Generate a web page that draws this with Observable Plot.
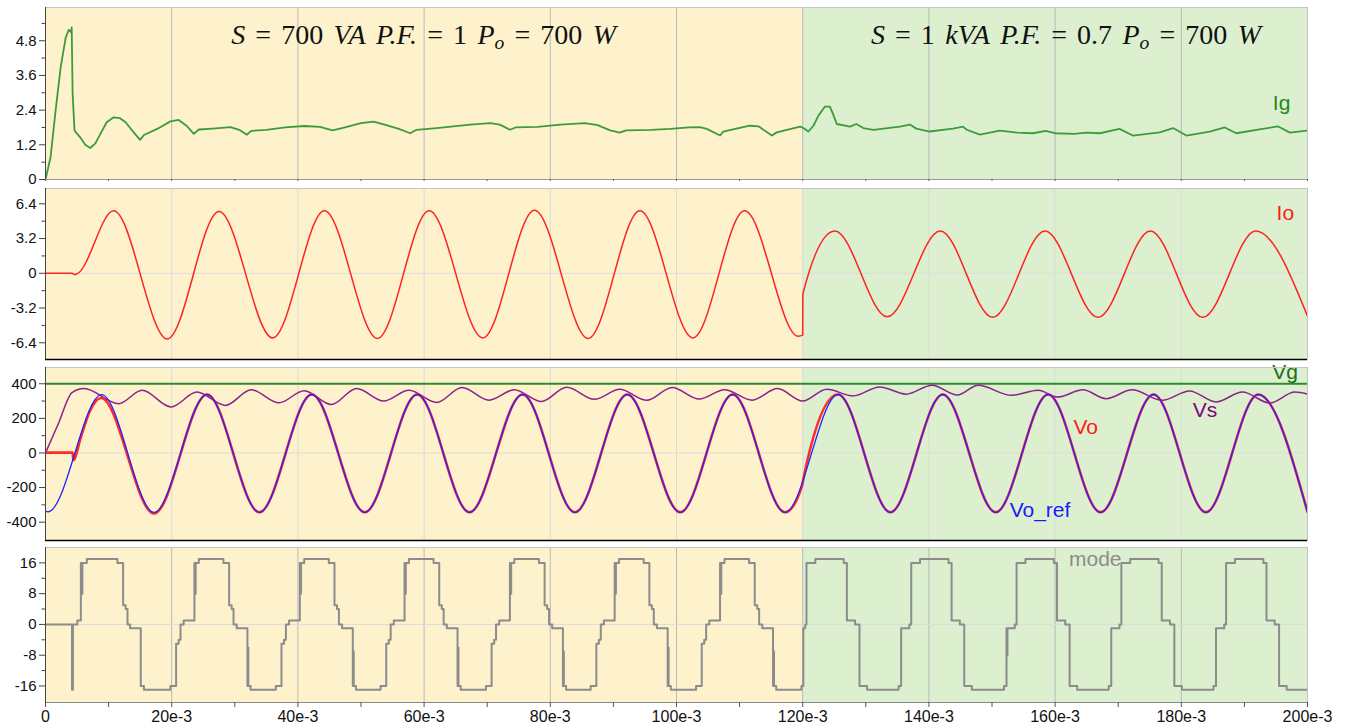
<!DOCTYPE html>
<html>
<head>
<meta charset="utf-8">
<script src="https://cdn.jsdelivr.net/npm/d3@7"></script>
<script src="https://cdn.jsdelivr.net/npm/@observablehq/plot@0.6"></script>
<style>
  body { margin: 0; background: #fff; }
  #fig { position: relative; width: 1347px; height: 726px; overflow: hidden; }
  #fig .panel { position: absolute; left: 0; }
  #fig svg { display: block; }
  .phase {
    position: absolute; top: 21px; line-height: 28px; white-space: nowrap;
    font-family: "Liberation Serif", "Times New Roman", serif; font-size: 28px; color: #111;
    word-spacing: 0.12em; transform: translateX(-50%); z-index: 2;
  }
  .phase i { font-style: italic; }
  .phase .eq { margin: 0 0.36em; }
  .phase sub { font-size: 0.7em; vertical-align: -0.25em; line-height: 0; }
</style>
</head>
<body>
<div id="fig"></div>
<script>
// ---- operating phases (time in ms) ----
const phaseStart = [0, 120];
const phaseEnd = [120, 200];
const phaseFill = ["#fdf2cc", "#dcf0d0"];
const phaseTitles = [
  '<i>S</i><span class="eq">=</span>700 <i>VA</i> <i>P.F.</i><span class="eq">=</span>1 <i>P<sub>o</sub></i><span class="eq">=</span>700 <i>W</i>',
  '<i>S</i><span class="eq">=</span>1 <i>kVA</i> <i>P.F.</i><span class="eq">=</span>0.7 <i>P<sub>o</sub></i><span class="eq">=</span>700 <i>W</i>'
];

// ---- time axis ----
const xTicks = [0, 20, 40, 60, 80, 100, 120, 140, 160, 180, 200];
const xTickLabels = ["0", "20e-3", "40e-3", "60e-3", "80e-3", "100e-3", "120e-3", "140e-3", "160e-3", "180e-3", "200e-3"];
const xMinor = [10, 30, 50, 70, 90, 110, 130, 150, 170, 190];

// ---- Ig : grid current [A] (t ms, value) ----
const ig = [[0,0],[0.8,0.77],[1.6,2.38],[2.4,3.88],[3.2,4.91],[3.7,5.18],[4.06,5.09],[4.15,5.26],[4.3,2.96],[4.6,1.69],
  [5.5,1.46],[6.3,1.2],[7.1,1.09],[7.9,1.25],[8.7,1.58],[9.7,1.98],[10.8,2.15],[11.8,2.12],[12.7,1.98],[13.9,1.65],
  [15.0,1.37],[15.6,1.54],[17.7,1.75],[19.8,2.01],[21.1,2.06],[22.4,1.85],[23.5,1.58],[24.3,1.73],[26.5,1.76],[29.3,1.81],
  [30.7,1.72],[31.9,1.55],[32.6,1.68],[35,1.72],[38,1.8],[41,1.85],[43.5,1.82],[45.5,1.7],[47,1.78],[50,1.95],
  [52,2.0],[54,1.88],[56,1.75],[57.8,1.6],[58.8,1.72],[62,1.78],[65,1.85],[67.3,1.9],[70.5,1.95],[72,1.9],
  [73.6,1.72],[74.5,1.8],[78,1.82],[81.6,1.9],[85.5,1.95],[87.5,1.88],[89.5,1.7],[91,1.62],[92,1.7],[96,1.72],
  [99,1.75],[102,1.8],[103.7,1.81],[104.8,1.75],[106.9,1.52],[107.4,1.66],[111.6,1.86],[113,1.84],[115.1,1.52],[115.9,1.63],
  [119.6,1.83],[120.1,1.78],[120.9,1.66],[121.7,1.86],[122.5,2.21],[123.5,2.52],[124.3,2.52],[124.8,2.27],[125.4,1.92],[127.5,1.83],
  [128.5,1.92],[129.6,1.78],[131.2,1.72],[135.4,1.83],[137,1.9],[138,1.76],[140.1,1.66],[143.8,1.76],[145.4,1.83],[146,1.72],
  [148.1,1.55],[151.2,1.69],[154,1.62],[156.5,1.6],[158.5,1.68],[160,1.6],[163,1.58],[165,1.62],[167.1,1.6],[170.2,1.75],
  [172.3,1.52],[176.6,1.63],[178.7,1.78],[180.8,1.52],[184.5,1.66],[186.9,1.8],[188.7,1.6],[192.9,1.75],[195.3,1.84],[197.2,1.62],
  [199.9,1.69]];
const igTicks = [0, 1.2, 2.4, 3.6, 4.8];
const igTickLabels = ["0", "1.2", "2.4", "3.6", "4.8"];
const igMinor = [0.6, 1.8, 3.0, 4.2, 5.4];

// ---- Io : output current [A], extrema and breakpoints ----
const io = [[0,0],[4.2,0],[4.6,-0.12],[5.0,-0.05],[10.8,5.75],[19.3,-6.05],[27.5,5.7],[36.0,-5.95],[44.2,5.75],[52.6,-6.0],
  [60.8,5.75],[69.3,-5.95],[77.5,5.8],[86.0,-6.0],[94.2,5.75],[102.6,-5.95],[110.8,5.75],[119.3,-5.8],[120.0,-5.7],[120.03,-1.9],
  [125.1,3.9],[133.4,-4.0],[141.8,3.9],[150.1,-4.05],[158.4,3.9],[166.8,-4.05],[175.1,3.9],[183.4,-4.05],[191.8,3.9],[200,-3.95]];
const ioTicks = [-6.4, -3.2, 0, 3.2, 6.4];
const ioTickLabels = ["-6.4", "-3.2", "0", "3.2", "6.4"];
const ioMinor = [-4.8, -1.6, 1.6, 4.8];

// ---- voltages [V] ----
const vg = [[0,400],[200,400]];
const vs = [[0,0],[2.1,175],[4.2,349],[6.1,372],[11.6,285],[15.3,362],[19.9,266],[24.0,352],[28.5,275],[32.6,365],
  [37.0,290],[41.0,360],[45.3,280],[49.3,372],[53.6,300],[57.6,362],[62.0,292],[66.0,378],[70.3,305],[74.3,366],
  [78.6,298],[82.6,380],[87.0,310],[91.0,368],[95.3,304],[99.3,378],[103.6,312],[107.6,366],[112.0,305],[116.0,372],
  [120.0,300],[123.8,368],[128.0,330],[132.2,382],[136.4,340],[140.5,392],[144.5,335],[147.8,391],[153.1,333],[157.3,362],
  [160.4,323],[164.4,365],[168.1,314],[172.2,365],[177.0,304],[181.3,358],[185.5,295],[189.7,352],[194.0,289],[198.0,352],
  [200,340]];
const voRef = [[0,-338],[0.4,-340],[8.9,337],[17.2,-344],[25.6,338],[33.9,-343],[42.2,338],[50.6,-343],[58.9,338],[67.2,-343],
  [75.6,338],[83.9,-343],[92.2,338],[100.6,-343],[108.9,338],[117.2,-343],[125.6,338],[133.9,-343],[142.2,338],[150.6,-343],
  [158.9,338],[167.2,-343],[175.6,338],[183.9,-343],[192.2,338],[200,-341]];
const vo = [[0,2],[4.3,2],[4.4,-42],[5.6,90],[7.0,240],[8.8,318],[17.2,-350],[25.6,338],[33.9,-343],[42.2,338],
  [50.6,-343],[58.9,338],[67.2,-343],[75.6,338],[83.9,-343],[92.2,338],[100.6,-343],[108.9,338],[117.2,-343],[119.9,-190],
  [120.05,-160],[125.6,338],[133.9,-343],[142.2,338],[150.6,-343],[158.9,338],[167.2,-343],[175.6,338],[183.9,-343],[192.2,338],
  [200,-341]];
const vTicks = [-400, -200, 0, 200, 400];
const vTickLabels = ["-400", "-200", "0", "200", "400"];
const vMinor = [-300, -100, 100, 300];

// ---- converter mode (t ms where the level starts, level) ----
const mode = [[0,0],[4.2,-17],[4.35,0],[5.05,1],[5.6,16],[5.75,8],[5.85,16],[6.55,17],
  [11.4,16],[12.3,5],[12.7,4],[13.0,0],[13.4,-1],[15.1,-16],[15.6,-17],
  [19.8,-16],[20.7,-5],[21.1,-4],[21.4,0],[21.9,1],[23.6,16],[23.7,8],[23.8,16],[24.3,17],
  [28.2,16],[29.1,5],[29.5,4],[29.8,0],[30.3,-1],[32.0,-16],[32.05,-6],[32.15,-16],[32.5,-17],
  [36.5,-16],[37.4,-5],[37.8,-4],[38.1,0],[38.6,1],[40.3,16],[40.4,8],[40.5,16],[41.0,17],
  [44.9,16],[45.8,5],[46.2,4],[46.5,0],[47.0,-1],[48.7,-16],[48.75,-7],[48.85,-16],[49.2,-17],
  [53.1,-16],[54.0,-5],[54.4,-4],[54.7,0],[55.2,1],[56.9,16],[57.0,8],[57.1,16],[57.6,17],
  [61.5,16],[62.4,5],[62.8,4],[63.1,0],[63.6,-1],[65.3,-16],[65.35,-6],[65.45,-16],[65.8,-17],
  [69.8,-16],[70.7,-5],[71.1,-4],[71.4,0],[71.9,1],[73.6,16],[73.7,8],[73.8,16],[74.3,17],
  [78.2,16],[79.1,5],[79.5,4],[79.8,0],[80.3,-1],[82.0,-16],[82.05,-7],[82.15,-16],[82.5,-17],
  [86.4,-16],[87.3,-5],[87.7,-4],[88.0,0],[88.5,1],[90.2,16],[90.3,8],[90.4,16],[90.9,17],
  [94.8,16],[95.7,5],[96.1,4],[96.4,0],[96.9,-1],[98.6,-16],[98.65,-6],[98.75,-16],[99.1,-17],
  [103.1,-16],[104.0,-5],[104.4,-4],[104.7,0],[105.2,1],[106.9,16],[107.0,8],[107.1,16],[107.6,17],
  [111.5,16],[112.4,5],[112.8,4],[113.1,0],[113.6,-1],[115.3,-16],[115.35,-7],[115.45,-16],[115.8,-17],
  [119.8,-16],[120.1,-1],[120.4,0],[120.6,16],[122.0,17],
  [126.5,16],[127.0,1],[128.3,0],[129.0,-16],[130.2,-17],
  [135.2,-16],[135.6,-1],[136.9,0],[137.2,16],[138.6,17],
  [143.1,16],[143.6,1],[144.9,0],[145.6,-16],[146.8,-17],
  [151.9,-16],[152.3,-1],[152.35,-8],[152.45,-1],[153.6,0],[153.9,16],[155.3,17],
  [159.8,16],[160.3,1],[161.6,0],[162.3,-16],[163.5,-17],
  [168.5,-16],[168.9,-1],[170.2,0],[170.5,16],[171.9,17],
  [176.4,16],[176.9,1],[178.2,0],[178.9,-16],[180.1,-17],
  [185.1,-16],[185.5,-1],[186.8,0],[187.1,16],[188.5,17],
  [193.0,16],[193.5,1],[194.8,0],[195.5,-16],[196.7,-17],[200,-17]];
const modeTicks = [-16, -8, 0, 8, 16];
const modeTickLabels = ["-16", "-8", "0", "8", "16"];
const modeMinor = [-12, -4, 4, 12];

// ---- drawing ----
const SANS = '"Liberation Sans", Arial, Helvetica, sans-serif';
const T = d => d[0], V = d => d[1];

function labelOf(ticks, labels) {
  return d => labels[ticks.findIndex(t => Math.abs(t - d) < 1e-9)];
}

function panel(o) {
  const marks = [
    ...phaseStart.map((s, i) => Plot.rect([s], {x1: d => d, x2: () => phaseEnd[i], fill: phaseFill[i]})),
    Plot.ruleX(xTicks, {stroke: o.gridColor, strokeWidth: 1}),
    o.zeroLine ? Plot.ruleY([0], {stroke: "#dcdcdc", strokeWidth: 1}) : null,
    ...o.marks,
    Plot.frame({stroke: "#c4c4c4"}),
    Plot.ruleY([o.yDomain[0]], {stroke: o.bottomColor, strokeWidth: o.bottomWidth}),
    Plot.ruleX([0], {stroke: "#444", strokeWidth: 1}),
    Plot.axisY(o.yTicks, {tickSize: 6, tickPadding: 3, fontSize: 15, stroke: "#444", fill: "#111",
      tickFormat: labelOf(o.yTicks, o.yLabels)}),
    Plot.axisY(o.yMinor, {tickSize: 3.5, stroke: "#444", tickFormat: () => ""}),
    ...(o.extra || [])
  ];
  const svg = Plot.plot({
    width: 1347, height: o.height,
    marginLeft: 45, marginRight: 40, marginTop: o.marginTop, marginBottom: o.marginBottom,
    style: {fontFamily: SANS, fontSize: "15px", background: "transparent", color: "#111", overflow: "visible"},
    x: {domain: [0, 200], axis: null},
    y: {domain: o.yDomain, axis: null},
    marks
  });
  const wrap = document.createElement("div");
  wrap.className = "panel";
  wrap.style.top = o.top + "px";
  wrap.appendChild(svg);
  return wrap;
}

const lineLabel = (txt, x, y, color) =>
  Plot.text([txt], {x, y, text: d => d, fill: color, fontSize: 21, fontFamily: SANS, textAnchor: "start", lineAnchor: "middle"});

const fig = document.getElementById("fig");

fig.appendChild(panel({
  top: 0, height: 187, marginTop: 7, marginBottom: 8,
  yDomain: [0, 5.95], yTicks: igTicks, yLabels: igTickLabels, yMinor: igMinor,
  gridColor: "#b9b9bd", zeroLine: false, bottomColor: "#9a9a9a", bottomWidth: 1,
  marks: [
    Plot.line(ig, {x: T, y: V, stroke: "#3c9c3c", strokeWidth: 1.8, clip: true}),
    lineLabel("Ig", 194.5, 2.62, "#1c8a1c")
  ],
  extra: [Plot.axisX(xTicks.concat(xMinor), {tickSize: 2, stroke: "#666", tickFormat: () => ""})]
}));

fig.appendChild(panel({
  top: 187, height: 179, marginTop: 1, marginBottom: 7,
  yDomain: [-7.94, 7.81], yTicks: ioTicks, yLabels: ioTickLabels, yMinor: ioMinor,
  gridColor: "#dadada", zeroLine: true, bottomColor: "#000", bottomWidth: 1.5,
  marks: [
    Plot.line(io, {x: T, y: V, stroke: "#ff2222", strokeWidth: 1.5, curve: "monotone-x", clip: true}),
    lineLabel("Io", 195.1, 5.57, "#ff1a1a")
  ]
}));

fig.appendChild(panel({
  top: 366, height: 180, marginTop: 1, marginBottom: 6,
  yDomain: [-506, 494], yTicks: vTicks, yLabels: vTickLabels, yMinor: vMinor,
  gridColor: "#dadada", zeroLine: true, bottomColor: "#000", bottomWidth: 1.5,
  marks: [
    Plot.line(vg, {x: T, y: V, stroke: "#2f8a2f", strokeWidth: 2, clip: true}),
    Plot.line(vs, {x: T, y: V, stroke: "#8e1f8e", strokeWidth: 1.5, curve: "monotone-x", clip: true}),
    Plot.line(vo, {x: T, y: V, stroke: "#ff2a2a", strokeWidth: 2.6, curve: "monotone-x", clip: true}),
    Plot.line(voRef, {x: T, y: V, stroke: "#2424ff", strokeWidth: 1.3, curve: "monotone-x", clip: true}),
    lineLabel("Vg", 194.4, 467, "#1b6e1b"),
    lineLabel("Vs", 181.8, 246, "#800080"),
    lineLabel("Vo", 162.9, 150, "#ff1a1a"),
    lineLabel("Vo_ref", 152.8, -332, "#1a1aff")
  ]
}));

fig.appendChild(panel({
  top: 546, height: 180, marginTop: 1, marginBottom: 24,
  yDomain: [-20.3, 20], yTicks: modeTicks, yLabels: modeTickLabels, yMinor: modeMinor,
  gridColor: "#b9b9bd", zeroLine: true, bottomColor: "#888", bottomWidth: 1,
  marks: [
    Plot.line(mode, {x: T, y: V, stroke: "#8c8c8c", strokeWidth: 2, curve: "step-after", clip: true}),
    lineLabel("mode", 162.2, 17.06, "#8c8c8c")
  ],
  extra: [
    Plot.axisX(xTicks, {tickSize: 5, tickPadding: 3, fontSize: 16, stroke: "#555", fill: "#111",
      tickFormat: labelOf(xTicks, xTickLabels)}),
    Plot.axisX(xMinor, {tickSize: 5, stroke: "#555", tickFormat: () => ""})
  ]
}));

// phase headings drawn over the top panel
const xPix = t => 45 + t * (1307 - 45) / 200;
const titleCenters = [60, 161.8];
phaseTitles.forEach((html, i) => {
  const div = document.createElement("div");
  div.className = "phase";
  div.style.left = xPix(titleCenters[i]) + "px";
  div.innerHTML = html;
  fig.appendChild(div);
});
</script>
</body>
</html>
